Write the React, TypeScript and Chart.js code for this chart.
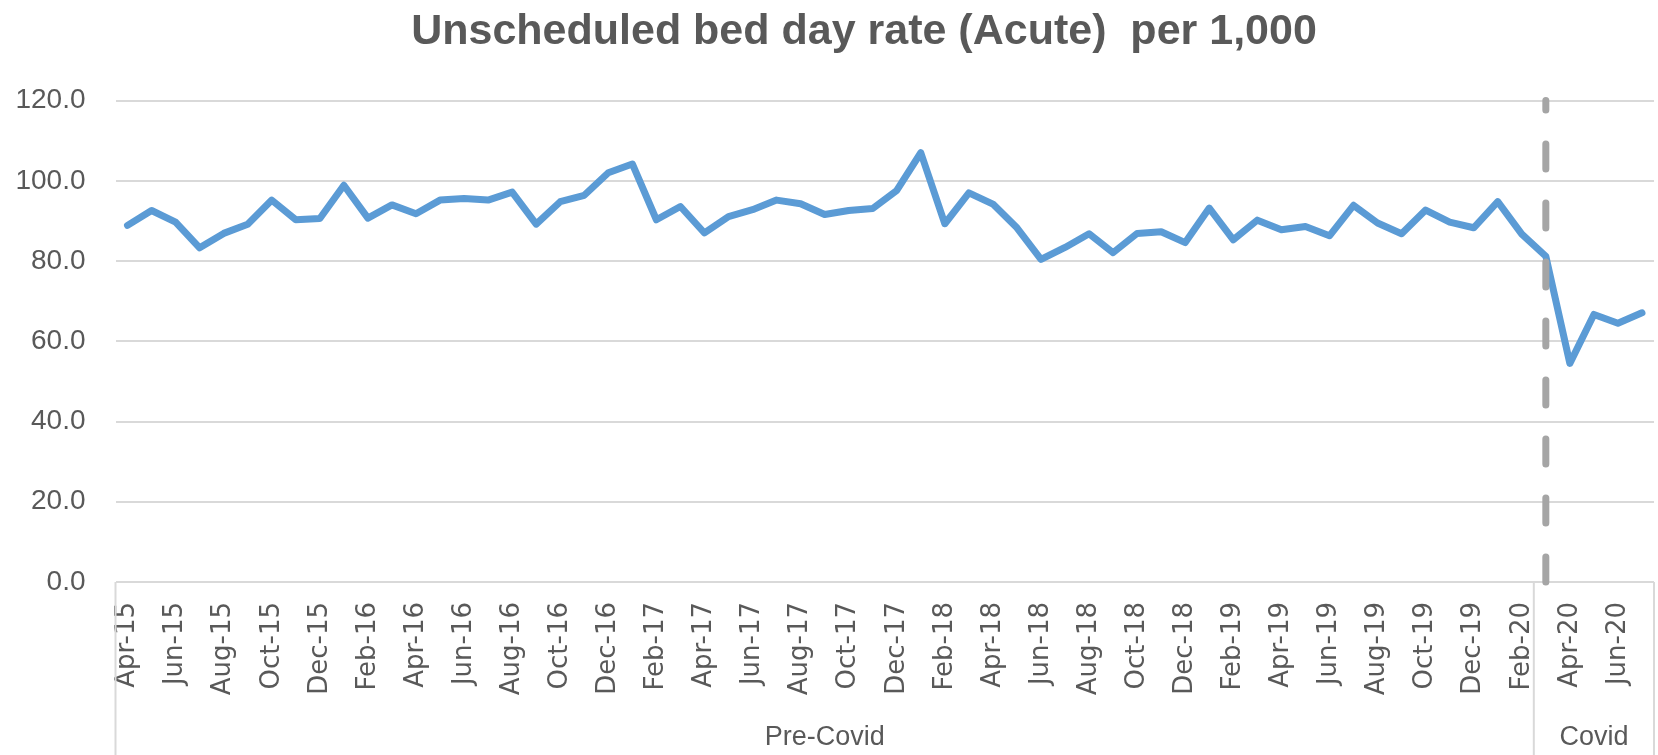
import React, { useEffect, useRef } from 'react';
import { Chart, registerables } from 'chart.js';

Chart.register(...registerables);

const TITLE = 'Unscheduled bed day rate (Acute)  per 1,000';

const months = [
  'Apr-15', 'May-15', 'Jun-15', 'Jul-15', 'Aug-15', 'Sep-15', 'Oct-15', 'Nov-15', 'Dec-15',
  'Jan-16', 'Feb-16', 'Mar-16', 'Apr-16', 'May-16', 'Jun-16', 'Jul-16', 'Aug-16', 'Sep-16', 'Oct-16', 'Nov-16', 'Dec-16',
  'Jan-17', 'Feb-17', 'Mar-17', 'Apr-17', 'May-17', 'Jun-17', 'Jul-17', 'Aug-17', 'Sep-17', 'Oct-17', 'Nov-17', 'Dec-17',
  'Jan-18', 'Feb-18', 'Mar-18', 'Apr-18', 'May-18', 'Jun-18', 'Jul-18', 'Aug-18', 'Sep-18', 'Oct-18', 'Nov-18', 'Dec-18',
  'Jan-19', 'Feb-19', 'Mar-19', 'Apr-19', 'May-19', 'Jun-19', 'Jul-19', 'Aug-19', 'Sep-19', 'Oct-19', 'Nov-19', 'Dec-19',
  'Jan-20', 'Feb-20', 'Mar-20', 'Apr-20', 'May-20', 'Jun-20', 'Jul-20',
];

const rates = [
  88.9, 92.6, 89.7, 83.3, 86.9, 89.2, 95.2, 90.3, 90.6,
  98.9, 90.7, 94.0, 91.8, 95.2, 95.6, 95.2, 97.2, 89.2, 94.8, 96.4, 102.0,
  104.2, 90.3, 93.6, 87.0, 91.1, 92.8, 95.2, 94.3, 91.6, 92.6, 93.1, 97.6,
  107.0, 89.3, 97.0, 94.2, 88.3, 80.4, 83.4, 86.8, 82.1, 86.9, 87.3, 84.6,
  93.2, 85.3, 90.2, 87.8, 88.6, 86.3, 93.9, 89.5, 86.8, 92.7, 89.7, 88.3,
  94.8, 86.7, 81.2, 54.5, 66.7, 64.5, 67.1,
];

const groupLabels = ['Pre-Covid', 'Covid'];
const groupSizes = [59, 5];

const yTicks = [0, 20, 40, 60, 80, 100, 120];

const markerMonth = 'Mar-20';
const markerRange = [0, 120];

const TEXT = '#595959';
const GRID = '#d9d9d9';

export default function App() {
  const ref = useRef<HTMLCanvasElement>(null);

  useEffect(() => {
    const canvas = ref.current;
    if (!canvas) return;

    const groupPlugin = {
      id: 'groupAxis',
      afterLayout(chart: any) {
        const t = chart.titleBlock;
        if (t) {
          t.left += 37;
          t.right += 37;
        }
      },
      afterDatasetsDraw(chart: any) {
        const { ctx, scales } = chart;
        const x = scales.x;
        const y = scales.y;
        const px = x.getPixelForValue(months.indexOf(markerMonth));
        ctx.save();
        ctx.strokeStyle = '#a5a5a5';
        ctx.lineWidth = 7;
        ctx.lineCap = 'round';
        ctx.setLineDash([25, 34]);
        ctx.beginPath();
        ctx.moveTo(px, y.getPixelForValue(markerRange[0]));
        ctx.lineTo(px, y.getPixelForValue(markerRange[1]));
        ctx.stroke();
        ctx.restore();
      },
      afterDraw(chart: any) {
        const { ctx, scales } = chart;
        const x = scales.x;
        const y = scales.y;
        const half = (x.getPixelForValue(1) - x.getPixelForValue(0)) / 2;
        const top = y.getPixelForValue(0);
        const bottom = chart.height;
        ctx.save();
        ctx.strokeStyle = GRID;
        ctx.lineWidth = 2;
        let start = 0;
        const edges: number[] = [x.getPixelForValue(0) - half];
        groupSizes.forEach((n) => {
          start += n;
          edges.push(x.getPixelForValue(start - 1) + half);
        });
        edges.forEach((ex) => {
          ctx.beginPath();
          ctx.moveTo(ex, top);
          ctx.lineTo(ex, bottom);
          ctx.stroke();
        });
        ctx.fillStyle = TEXT;
        ctx.font = '27px "Liberation Sans"';
        ctx.textAlign = 'center';
        ctx.textBaseline = 'middle';
        groupLabels.forEach((g, i) => {
          const cx = (edges[i] + edges[i + 1]) / 2;
          ctx.fillText(g, cx, x.bottom - 17);
        });
        ctx.restore();
      },
    };

    const chart = new Chart(canvas, {
      type: 'line',
      data: {
        labels: months,
        datasets: [
          {
            label: 'Rate',
            data: rates,
            borderColor: '#5b9bd5',
            backgroundColor: '#5b9bd5',
            borderWidth: 7,
            pointRadius: 0,
            tension: 0,
            borderJoinStyle: 'round',
            borderCapStyle: 'round',
          },
        ],
      },
      options: {
        animation: false,
        responsive: false,
        devicePixelRatio: 1,
        layout: { padding: { left: 0, right: 4, top: 0, bottom: 0 } },
        plugins: {
          legend: { display: false },
          tooltip: { enabled: false },
          title: {
            display: true,
            text: TITLE,
            color: TEXT,
            font: { family: '"Liberation Sans"', size: 43, weight: 'bold' },
            padding: { top: 6, bottom: 43 },
          },
        },
        scales: {
          x: {
            type: 'category',
            offset: true,
            grid: { display: false, drawTicks: false },
            border: { display: false },
            ticks: {
              autoSkip: false,
              minRotation: 90,
              maxRotation: 90,
              padding: 20,
              color: TEXT,
              font: { family: '"DejaVu Sans"', size: 26 },
              callback: (_v: any, i: number) => (i % 2 === 0 ? months[i] : ''),
            },
            afterFit: (s: any) => {
              s.height = 173;
              s.paddingLeft = 0;
              s.paddingRight = 0;
            },
          },
          y: {
            min: yTicks[0],
            max: yTicks[yTicks.length - 1],
            grid: { color: GRID, lineWidth: 2, drawTicks: false },
            border: { display: false },
            afterBuildTicks: (s: any) => {
              s.ticks = yTicks.map((v) => ({ value: v }));
            },
            ticks: {
              padding: 30,
              color: TEXT,
              font: { family: '"Liberation Sans"', size: 28 },
              callback: (v: any) => Number(v).toFixed(1),
            },
            afterFit: (s: any) => {
              s.width = 115.5;
            },
          },
        },
      },
      plugins: [groupPlugin],
    });

    return () => chart.destroy();
  }, []);

  return (
    <div style={{ position: 'fixed', left: 0, top: 0, width: 1658, height: 755, background: '#fff' }}>
      <canvas ref={ref} width={1658} height={755} style={{ width: 1658, height: 755, display: 'block' }} />
    </div>
  );
}
